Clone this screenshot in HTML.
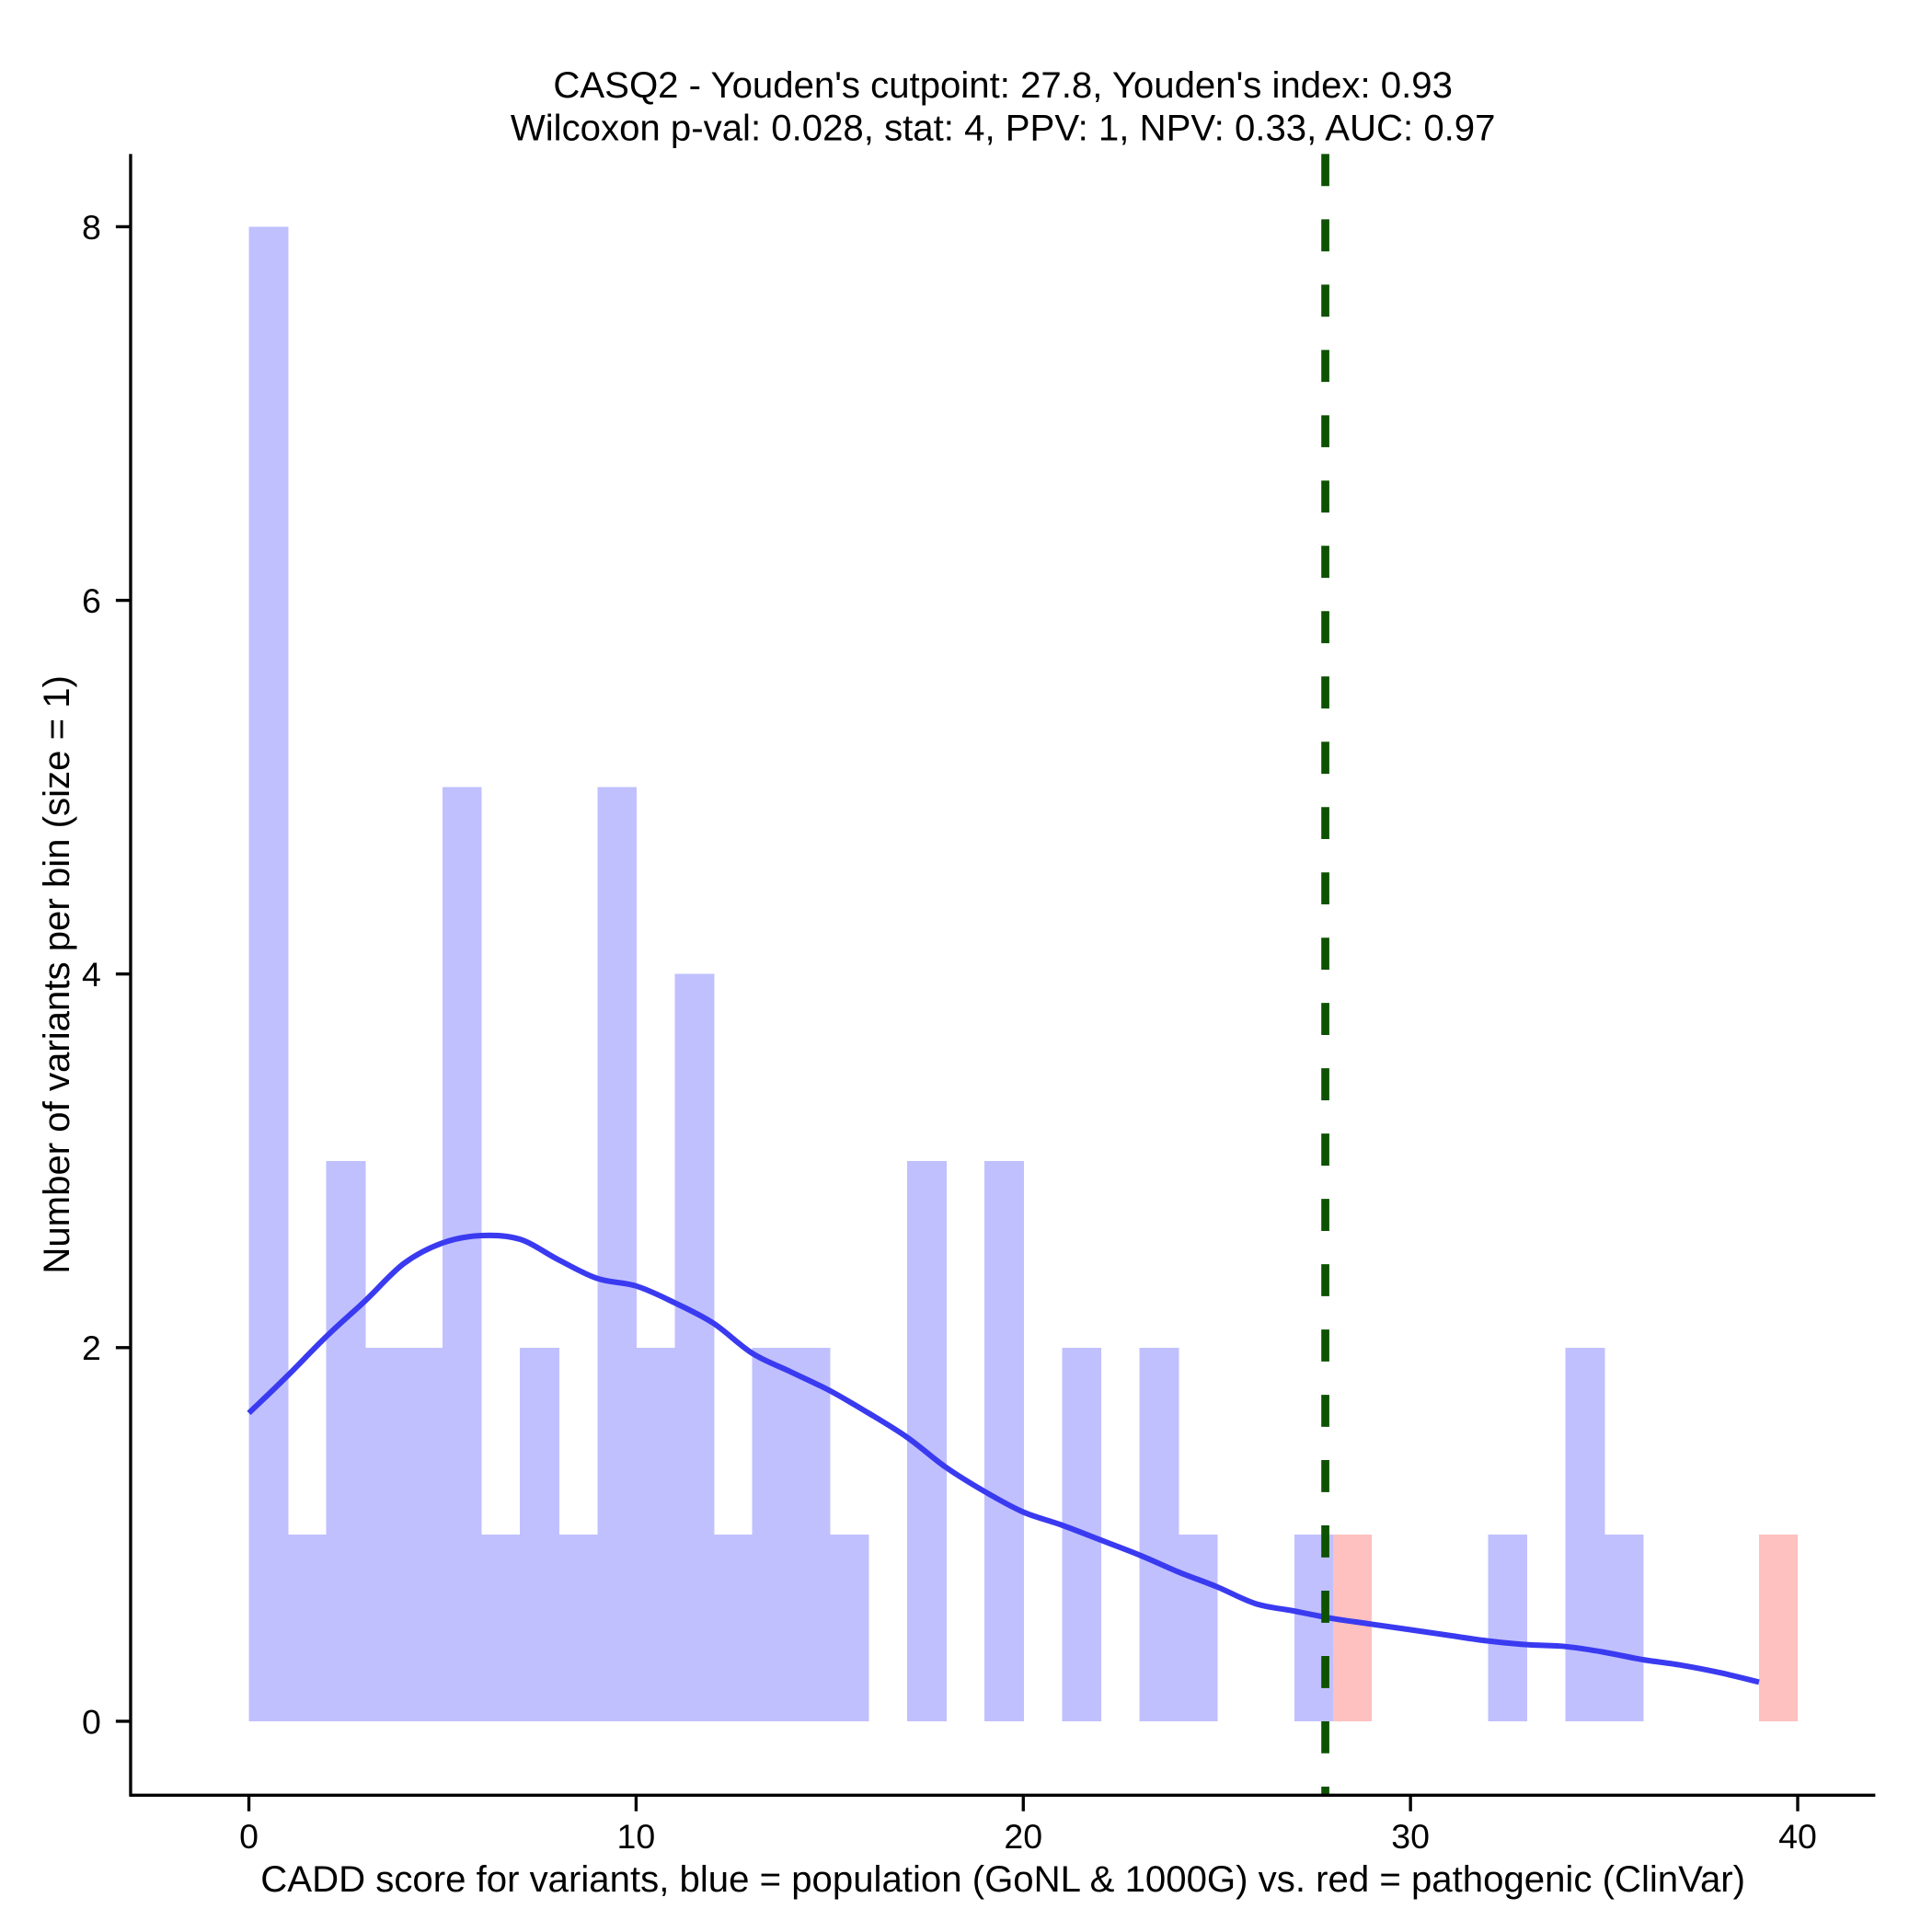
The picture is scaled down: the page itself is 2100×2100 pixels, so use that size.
<!DOCTYPE html>
<html><head><meta charset="utf-8"><style>
html,body{margin:0;padding:0;background:#fff;width:2100px;height:2100px;overflow:hidden}
svg{display:block}
text{font-family:"Liberation Sans",Arial,sans-serif;fill:#000}
</style></head><body>
<svg id="chart" width="2100" height="2100" viewBox="0 0 1568 1568" xmlns="http://www.w3.org/2000/svg">
<g id="bars" shape-rendering="crispEdges"></g>
<g id="curve"></g>
<g id="axes"></g>
<text x="814" y="79" font-size="30" text-anchor="middle">CASQ2 - Youden's cutpoint: 27.8, Youden's index: 0.93</text>
<text x="814" y="114" font-size="30" text-anchor="middle">Wilcoxon p-val: 0.028, stat: 4, PPV: 1, NPV: 0.33, AUC: 0.97</text>
<text x="814" y="1535" font-size="30" text-anchor="middle">CADD score for variants, blue = population (GoNL &amp; 1000G) vs. red = pathogenic (ClinVar)</text>
<text x="0" y="0" font-size="30" text-anchor="middle" transform="translate(56,791) rotate(-90)">Number of variants per bin (size = 1)</text>
</svg>
<script>
const blueCounts=[8,1,3,2,2,5,1,2,1,5,2,4,1,2,2,1,0,3,0,3,0,2,0,2,1,0,0,1,0,0,0,0,1,0,2,1,0,0,0,0];
const redCounts=[0,0,0,0,0,0,0,0,0,0,0,0,0,0,0,0,0,0,0,0,0,0,0,0,0,0,0,0,1,0,0,0,0,0,0,0,0,0,0,1];
const densityX=[0,1,2,3,4,5,6,7,8,9,10,11,12,13,14,15,16,17,18,19,20,21,22,23,24,25,26,27,28,29,30,31,32,33,34,35,36,37,38,39];
const densityY=[1.65,1.85,2.06,2.25,2.45,2.56,2.6,2.58,2.47,2.37,2.33,2.24,2.13,1.97,1.87,1.77,1.65,1.52,1.36,1.23,1.12,1.05,0.97,0.89,0.8,0.72,0.63,0.59,0.55,0.52,0.49,0.46,0.43,0.41,0.4,0.37,0.33,0.3,0.26,0.21];
const cutpoint=27.8;
const xTicks=[0,10,20,30,40];
const yTicks=[0,2,4,6,8];
const NS="http://www.w3.org/2000/svg";
const sx=v=>202+v*(1459-202)/40;
const sy=v=>1397-v*(1397-184)/8;
function mk(tag,attrs,parent){const e=document.createElementNS(NS,tag);for(const k in attrs)e.setAttribute(k,attrs[k]);parent.appendChild(e);return e;}
const bars=document.getElementById('bars');
blueCounts.forEach((c,i)=>{if(!c)return;
 const r=mk('rect',{x:sx(i),y:sy(c),width:sx(i+1)-sx(i)+0.5,height:sy(0)-sy(c),fill:'#c0c0ff'},bars);
 
 });
redCounts.forEach((c,i)=>{if(!c)return;
 const r=mk('rect',{x:sx(i),y:sy(c),width:sx(i+1)-sx(i),height:sy(0)-sy(c),fill:'#ffc0c0'},bars);
 
 });
const cg=document.getElementById('curve');
const pts=densityX.map((x,i)=>[sx(x),sy(densityY[i])]);
let d='M'+pts[0][0].toFixed(1)+','+pts[0][1].toFixed(1);
for(let i=0;i<pts.length-1;i++){
 const p0=pts[Math.max(i-1,0)],p1=pts[i],p2=pts[i+1],p3=pts[Math.min(i+2,pts.length-1)];
 const c1=[p1[0]+(p2[0]-p0[0])/6,p1[1]+(p2[1]-p0[1])/6],c2=[p2[0]-(p3[0]-p1[0])/6,p2[1]-(p3[1]-p1[1])/6];
 d+=' C'+c1[0].toFixed(1)+','+c1[1].toFixed(1)+' '+c2[0].toFixed(1)+','+c2[1].toFixed(1)+' '+p2[0].toFixed(1)+','+p2[1].toFixed(1);
}
const p=mk('path',{d:d,fill:'none',stroke:'#3a3af0','stroke-width':4.5,'stroke-linejoin':'round'},cg);


const cl=mk('line',{x1:sx(cutpoint),x2:sx(cutpoint),y1:125,y2:1457,stroke:'#0d5200','stroke-width':6.5,'stroke-dasharray':'26 27'},cg);


const ax=document.getElementById('axes');
const ya=mk('line',{x1:106,x2:106,y1:125,y2:1458,stroke:'#000','stroke-width':2.5},ax);


const xa=mk('line',{x1:105,x2:1522,y1:1457,y2:1457,stroke:'#000','stroke-width':2.5},ax);


xTicks.forEach(t=>{
 const l=mk('line',{x1:sx(t),x2:sx(t),y1:1457,y2:1470,stroke:'#000','stroke-width':2.5},ax);
 
 
 const tx=mk('text',{x:sx(t),y:1500,'font-size':28,'text-anchor':'middle'},ax);tx.textContent=t;
 
 });
yTicks.forEach(t=>{
 const l=mk('line',{x1:94,x2:106,y1:sy(t),y2:sy(t),stroke:'#000','stroke-width':2.5},ax);
 
 
 const tx=mk('text',{x:82,y:sy(t)+10,'font-size':28,'text-anchor':'end'},ax);tx.textContent=t;
 
 });
</script>
</body></html>
